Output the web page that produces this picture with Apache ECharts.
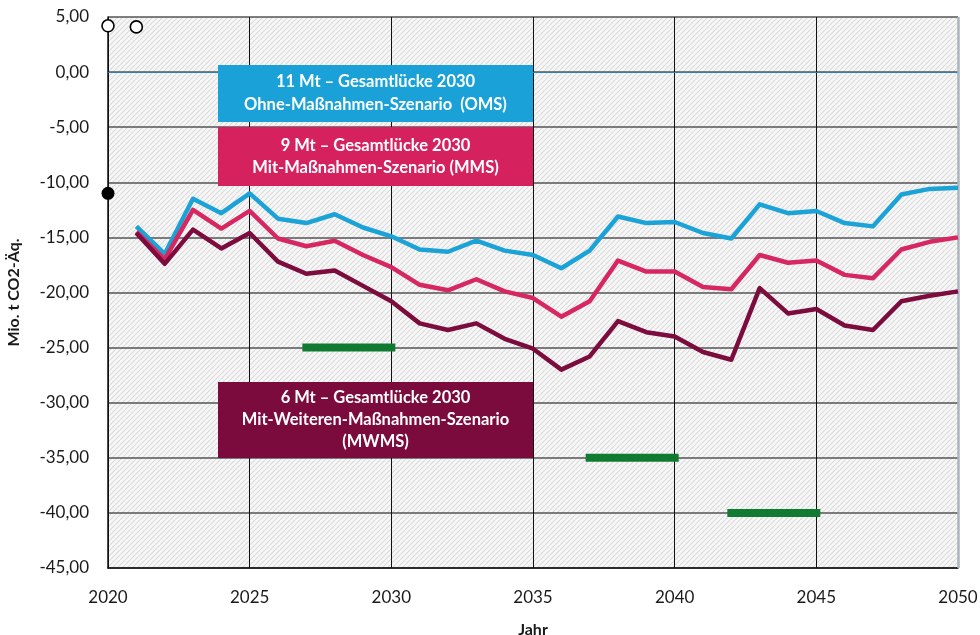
<!DOCTYPE html>
<html>
<head>
<meta charset="utf-8">
<script src="https://cdn.jsdelivr.net/npm/echarts@6/dist/echarts.min.js"></script>
<style>
  html, body { margin: 0; padding: 0; background: #ffffff; }
  #chart { width: 980px; height: 635px; }
</style>
</head>
<body>
<div id="chart"></div>
<script>
// Jahre der Szenario-Reihen
const years = [2021, 2022, 2023, 2024, 2025, 2026, 2027, 2028, 2029, 2030,
               2031, 2032, 2033, 2034, 2035, 2036, 2037, 2038, 2039, 2040,
               2041, 2042, 2043, 2044, 2045, 2046, 2047, 2048, 2049, 2050];

// Ohne-Maßnahmen-Szenario (OMS)
const omsValues = [-14.0, -16.5, -11.5, -12.8, -11.0, -13.3, -13.7, -12.9, -14.1, -14.9,
                   -16.1, -16.3, -15.3, -16.2, -16.6, -17.8, -16.2, -13.1, -13.7, -13.6,
                   -14.6, -15.1, -12.0, -12.8, -12.6, -13.7, -14.0, -11.1, -10.6, -10.5];

// Mit-Maßnahmen-Szenario (MMS)
const mmsValues = [-14.5, -17.0, -12.5, -14.2, -12.6, -15.1, -15.8, -15.3, -16.6, -17.7,
                   -19.3, -19.8, -18.8, -19.9, -20.5, -22.2, -20.8, -17.1, -18.1, -18.1,
                   -19.5, -19.7, -16.6, -17.3, -17.1, -18.4, -18.7, -16.1, -15.4, -15.0];

// Mit-Weiteren-Maßnahmen-Szenario (MWMS)
const mwmsValues = [-14.6, -17.4, -14.3, -16.0, -14.6, -17.2, -18.3, -18.0, -19.4, -20.8,
                    -22.8, -23.4, -22.8, -24.2, -25.1, -27.0, -25.8, -22.6, -23.6, -24.0,
                    -25.4, -26.1, -19.6, -21.9, -21.5, -23.0, -23.4, -20.8, -20.3, -19.9];

// Zielmarken (Beginn, Ende, Wert)
const targetStart = [2027, 2037, 2042];
const targetEnd   = [2030, 2040, 2045];
const targetValue = [-25, -35, -40];

// Einzelpunkte
const openPointsX = [2020, 2021];
const openPointsY = [4.2, 4.1];
const filledPointsX = [2020];
const filledPointsY = [-11.0];

// Achsenbeschriftungen
const xTicks = [2020, 2025, 2030, 2035, 2040, 2045, 2050];
const yMin = -45, yMax = 5, yStep = 5;

// Textfelder
const boxLines = [
  ['11 Mt \u2013 Gesamtlücke 2030', 'Ohne-Maßnahmen-Szenario  (OMS)'],
  ['9 Mt \u2013 Gesamtlücke 2030', 'Mit-Maßnahmen-Szenario (MMS)'],
  ['6 Mt \u2013 Gesamtlücke 2030', 'Mit-Weiteren-Maßnahmen-Szenario', '(MWMS)']
];

const FONT = 'Lato, "Open Sans", sans-serif';

// Schraffur für die Zeichenfläche
function hatchPattern() {
  const s = 5;
  const c = document.createElement('canvas');
  c.width = s; c.height = s;
  const g = c.getContext('2d');
  g.fillStyle = '#f7f7f7';
  g.fillRect(0, 0, s, s);
  g.strokeStyle = '#dadada';
  g.lineWidth = 1.1;
  g.beginPath();
  g.moveTo(0, s); g.lineTo(s, 0);
  g.moveTo(-s, s); g.lineTo(0, 0);
  g.moveTo(s, 2 * s); g.lineTo(2 * s, s);
  g.stroke();
  return { image: c, repeat: 'repeat' };
}

const pair = (xs, ys) => xs.map((x, i) => [x, ys[i]]);

const lineSeries = (name, values, color) => ({
  name: name,
  type: 'line',
  data: pair(years, values),
  showSymbol: false,
  symbol: 'none',
  lineStyle: { color: color, width: 4.5, join: 'round' },
  z: 5,
  silent: true
});

const targetSeries = targetStart.map((s, i) => ({
  type: 'line',
  data: [[s, targetValue[i]], [targetEnd[i], targetValue[i]]],
  symbol: 'none',
  lineStyle: { color: '#0f7a30', width: 8, cap: 'square' },
  z: 4,
  silent: true
}));

const chart = echarts.init(document.getElementById('chart'), null, { renderer: 'canvas' });

function box(x, y, w, h, color, lines, lineGap) {
  const children = [{
    type: 'rect',
    z: 100,
    shape: { x: 0, y: 0, width: w, height: h },
    style: { fill: color }
  }];
  const total = (lines.length - 1) * lineGap;
  lines.forEach((t, i) => {
    children.push({
      type: 'text',
      z: 101,
      x: w / 2,
      y: h / 2 - total / 2 + i * lineGap,
      style: {
        text: t,
        fill: '#ffffff',
        font: 'bold 16.5px ' + FONT,
        align: 'center',
        verticalAlign: 'middle'
      }
    });
  });
  return { type: 'group', x: x, y: y, z: 100, children: children };
}

chart.setOption({
  backgroundColor: '#ffffff',
  animation: false,
  grid: {
    left: 108, right: 22, top: 17, bottom: 67,
    outerBoundsMode: 'none',
    containLabel: false,
    show: true,
    backgroundColor: hatchPattern(),
    borderWidth: 0
  },
  xAxis: {
    type: 'value',
    min: xTicks[0], max: xTicks[xTicks.length - 1], interval: 5,
    name: 'Jahr',
    nameLocation: 'middle',
    nameGap: 54,
    nameTextStyle: { fontFamily: FONT, fontWeight: 'bold', fontSize: 16, color: '#1a1a1a' },
    axisLine: { show: true, onZero: false, lineStyle: { color: '#111111', width: 1.5 } },
    axisTick: { show: false },
    axisLabel: {
      margin: 21,
      fontFamily: FONT, fontSize: 17, color: '#1a1a1a',
      formatter: v => String(v)
    },
    splitLine: { show: true, showMaxLine: false, lineStyle: { color: '#111111', width: 1 } }
  },
  yAxis: {
    type: 'value',
    min: yMin, max: yMax, interval: yStep,
    name: 'Mio. t CO2-Äq.',
    nameLocation: 'middle',
    nameGap: 86,
    nameTextStyle: { fontFamily: FONT, fontWeight: 'bold', fontSize: 16, color: '#1a1a1a' },
    axisLine: { show: true, lineStyle: { color: '#111111', width: 1.5 } },
    axisTick: { show: false },
    axisLabel: {
      margin: 19,
      fontFamily: FONT, fontSize: 17, color: '#1a1a1a',
      formatter: v => v.toFixed(2).replace('.', ',')
    },
    splitLine: { show: true, lineStyle: { color: '#555555', width: 1.5 } }
  },
  series: [
    {
      type: 'line',
      data: [],
      silent: true,
      markLine: {
        silent: true,
        symbol: 'none',
        label: { show: false },
        data: [
          { yAxis: 0, lineStyle: { color: '#2d7fb5', width: 1.2, type: 'solid' } },
          { xAxis: xTicks[xTicks.length - 1], lineStyle: { color: '#a9b4be', width: 2.5, type: 'solid' } }
        ]
      },
      z: 3
    },
    lineSeries('OMS', omsValues, '#1ba3d8'),
    lineSeries('MMS', mmsValues, '#d72761'),
    lineSeries('MWMS', mwmsValues, '#7c0c3d'),
    ...targetSeries,
    {
      type: 'scatter',
      data: pair(openPointsX, openPointsY),
      symbol: 'circle',
      symbolSize: 12,
      itemStyle: { color: '#ffffff', borderColor: '#000000', borderWidth: 1.6, opacity: 1 },
      z: 10,
      silent: true
    },
    {
      type: 'scatter',
      data: pair(filledPointsX, filledPointsY),
      symbol: 'circle',
      symbolSize: 13,
      itemStyle: { color: '#000000', opacity: 1 },
      z: 10,
      silent: true
    }
  ],
  graphic: {
    z: 100,
    elements: [
      box(218, 65, 315, 57, '#1aa2d8', boxLines[0], 23),
      box(218, 127, 315, 59, '#d5225f', boxLines[1], 22),
      box(218, 382, 315, 76, '#7b0a3d', boxLines[2], 22)
    ]
  }
});
</script>
</body>
</html>
